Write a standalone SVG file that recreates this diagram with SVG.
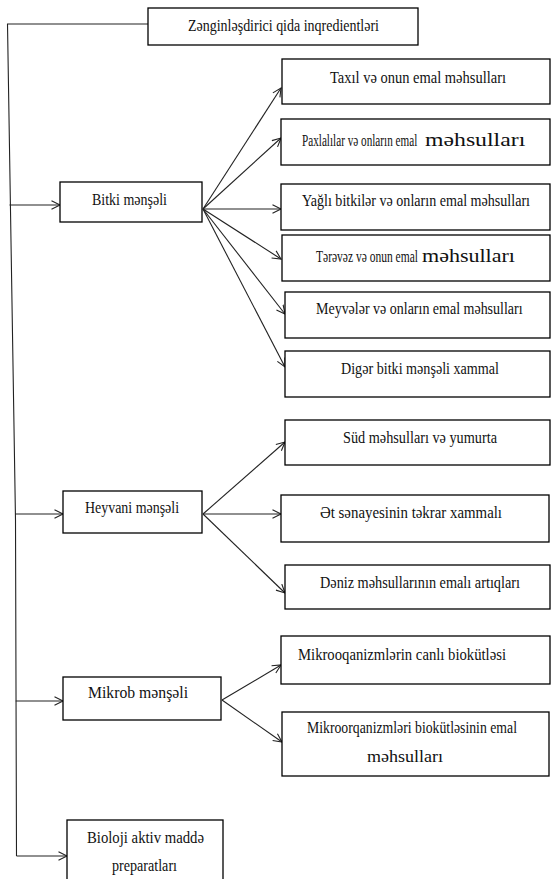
<svg xmlns="http://www.w3.org/2000/svg" width="551" height="879" viewBox="0 0 551 879">
<style>
.box{fill:#fff;stroke:#000;stroke-width:1.3}
.t{font-family:"Liberation Serif","Times New Roman","DejaVu Serif",serif;font-size:16px;fill:#111}
.big{font-family:"Liberation Serif","Times New Roman","DejaVu Serif",serif;font-size:19px;fill:#111}
.c{fill:none;stroke:#222;stroke-width:1.1}
</style>
<defs>
<marker id="ah" markerUnits="userSpaceOnUse" markerWidth="12" markerHeight="12" refX="9" refY="5" orient="auto">
<path d="M0.5,0.8 L9,5 L0.5,9.2" fill="none" stroke="#222" stroke-width="1.1"/>
</marker>
</defs>
<rect width="551" height="879" fill="#fff"/>
<g id="connectors">
<polyline class="c" points="148,24 7.5,24 15.5,520 16.5,856"/>
<line class="c" x1="9.5" y1="205" x2="60" y2="205" marker-end="url(#ah)"/>
<line class="c" x1="15.2" y1="514" x2="63" y2="514" marker-end="url(#ah)"/>
<line class="c" x1="15.7" y1="701" x2="63" y2="701" marker-end="url(#ah)"/>
<line class="c" x1="16.5" y1="856" x2="67" y2="856" marker-end="url(#ah)"/>
<line class="c" x1="203" y1="209" x2="281" y2="88" marker-end="url(#ah)"/>
<line class="c" x1="203" y1="209" x2="281" y2="138" marker-end="url(#ah)"/>
<line class="c" x1="203" y1="209" x2="281" y2="209" marker-end="url(#ah)"/>
<line class="c" x1="203" y1="209" x2="281" y2="259" marker-end="url(#ah)"/>
<line class="c" x1="203" y1="209" x2="285" y2="314" marker-end="url(#ah)"/>
<line class="c" x1="203" y1="209" x2="285" y2="367" marker-end="url(#ah)"/>
<line class="c" x1="203" y1="514" x2="285" y2="442" marker-end="url(#ah)"/>
<line class="c" x1="203" y1="514" x2="281" y2="514" marker-end="url(#ah)"/>
<line class="c" x1="203" y1="514" x2="285" y2="593" marker-end="url(#ah)"/>
<line class="c" x1="222" y1="700" x2="281" y2="665" marker-end="url(#ah)"/>
<line class="c" x1="222" y1="700" x2="282" y2="742" marker-end="url(#ah)"/>
</g>
<g id="root"><rect class="box" x="148" y="8" width="270" height="37"/><text class="t" x="188" y="31" textLength="191" lengthAdjust="spacingAndGlyphs">Zənginləşdirici  qida inqredientləri</text></g>
<g id="bitki"><rect class="box" x="60" y="182" width="142" height="40"/><text class="t" x="92" y="205" textLength="75" lengthAdjust="spacingAndGlyphs">Bitki mənşəli</text></g>
<g id="taxil"><rect class="box" x="282" y="59" width="268" height="45"/><text class="t" x="330" y="83" textLength="176" lengthAdjust="spacingAndGlyphs">Taxıl və onun emal  məhsulları</text></g>
<g id="paxlalilar"><rect class="box" x="281" y="119" width="269" height="46"/><text class="t" transform="translate(302,146) scale(0.70,1)">Paxlalılar  və onların emal</text><text class="big" transform="translate(425,146) scale(1.25,1)">məhsulları</text></g>
<g id="yagli"><rect class="box" x="281" y="184" width="269" height="46"/><text class="t" transform="translate(302,206) scale(0.88,1)">Yağlı bitkilər və onların emal məhsulları</text></g>
<g id="terevez"><rect class="box" x="282" y="235" width="268" height="46"/><text class="t" transform="translate(316,262) scale(0.72,1)">Tərəvəz və onun emal</text><text class="big" transform="translate(422,262) scale(1.16,1)">məhsulları</text></g>
<g id="meyveler"><rect class="box" x="285" y="292" width="265" height="46"/><text class="t" transform="translate(316,314) scale(0.875,1)">Meyvələr və onların emal məhsulları</text></g>
<g id="diger"><rect class="box" x="285" y="351" width="265" height="46"/><text class="t" x="341" y="374" textLength="158" lengthAdjust="spacingAndGlyphs">Digər bitki mənşəli xammal</text></g>
<g id="heyvani"><rect class="box" x="63" y="491" width="139" height="42"/><text class="t" x="85" y="513" textLength="94" lengthAdjust="spacingAndGlyphs">Heyvani mənşəli</text></g>
<g id="sud"><rect class="box" x="285" y="420" width="265" height="45"/><text class="t" x="343" y="443" textLength="154" lengthAdjust="spacingAndGlyphs">Süd məhsulları və yumurta</text></g>
<g id="et"><rect class="box" x="281" y="495" width="268" height="47"/><text class="t" x="320" y="518" textLength="182" lengthAdjust="spacingAndGlyphs">Ət sənayesinin təkrar xammalı</text></g>
<g id="deniz"><rect class="box" x="285" y="565" width="265" height="44"/><text class="t" x="320" y="588" textLength="200" lengthAdjust="spacingAndGlyphs">Dəniz məhsullarının emalı  artıqları</text></g>
<g id="mikrob"><rect class="box" x="63" y="677" width="158" height="43"/><text class="t" x="88" y="698" textLength="100" lengthAdjust="spacingAndGlyphs">Mikrob mənşəli</text></g>
<g id="canli"><rect class="box" x="281" y="636" width="269" height="48"/><text class="t" x="298" y="660" textLength="208" lengthAdjust="spacingAndGlyphs">Mikrooqanizmlərin  canlı biokütləsi</text></g>
<g id="emal"><rect class="box" x="282" y="712" width="267" height="64"/><text class="t" transform="translate(307,733) scale(0.86,1)">Mikroorqanizmləri biokütləsinin emal</text><text class="t" x="367" y="762" textLength="76" lengthAdjust="spacingAndGlyphs">məhsulları</text></g>
<g id="bioloji"><rect class="box" x="67" y="820" width="156" height="62"/><text class="t" x="87" y="843" textLength="117" lengthAdjust="spacingAndGlyphs">Bioloji aktiv maddə</text><text class="t" x="112" y="871" textLength="65" lengthAdjust="spacingAndGlyphs">preparatları</text></g>
</svg>
